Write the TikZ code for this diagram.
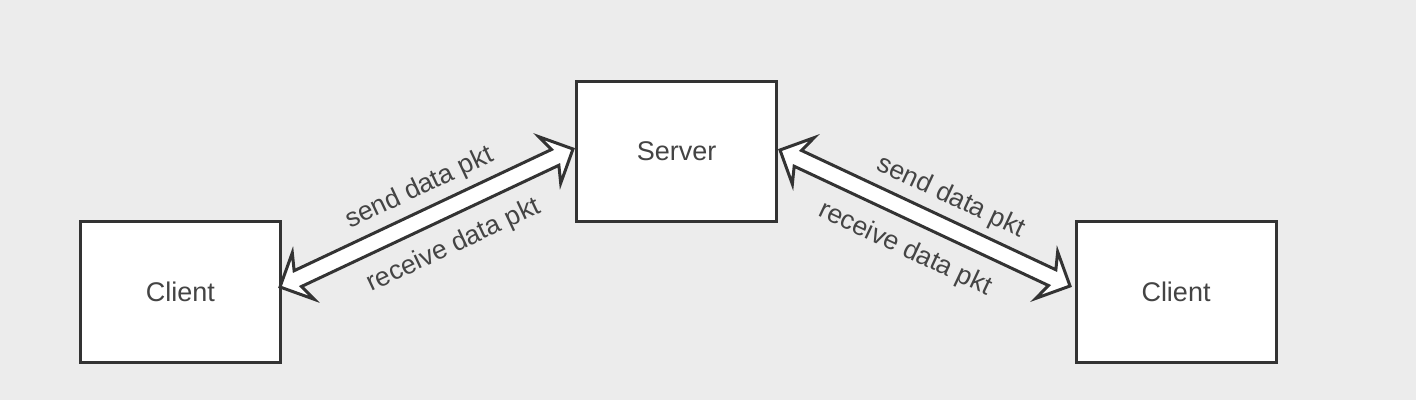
\documentclass[tikz,border=0pt]{standalone}
\usepackage{fontspec}
\setmainfont{Liberation Sans}
\usetikzlibrary{calc,shapes.arrows}
\definecolor{bgcol}{HTML}{ECECEC}
\definecolor{linecol}{HTML}{333333}
\definecolor{txtcol}{HTML}{444444}
\tikzset{
    box/.style={rectangle,draw=linecol,fill=white,line width=1.5pt,minimum width=100pt,minimum height=70pt,text=txtcol,font=\fontsize{13.5}{16}\selectfont,text height=0.95em,text depth=0pt},
    lbl/.style={text=txtcol,font=\fontsize{13.3}{16}\selectfont,inner sep=0pt,sloped},
    flexarrow/.style={double arrow,draw=linecol,fill=white,line width=1.5pt,inner xsep=0pt,inner ysep=3.6pt,double arrow head extend=8.5pt,double arrow head indent=3pt},
}

\begin{document}
\begin{tikzpicture}[x=0.5pt,y=-0.5pt]
\fill[bgcol] (0,0) rectangle (1416,400);
\node[box] (client1) at (180.5,292) {Client};
\node[box] (server) at (676.5,151.5) {Server};
\node[box] (client2) at (1176,292) {Client};
% ends of the two links
\coordinate (a1) at ($(client1.east)+(-2,-5)$);
\coordinate (a2) at ($(server.west)+(-2,-2.5)$);
\coordinate (b1) at ($(server.east)+(2,-1.5)$);
\coordinate (b2) at ($(client2.west)+(-4.5,-6)$);
\path let \p1=($(a2)-(a1)$), \n1={atan2(\y1,\x1)}, \n2={veclen(\x1,\y1)} in
  ($(a1)!0.5!(a2)$) node[flexarrow,rotate=\n1,minimum height=\n2] (link1) {};
\path let \p1=($(b2)-(b1)$), \n1={atan2(\y1,\x1)}, \n2={veclen(\x1,\y1)} in
  ($(b1)!0.5!(b2)$) node[flexarrow,rotate=\n1,minimum height=\n2] (link2) {};
\path (a1) -- (a2) node[lbl,pos=0.52,above=8.5pt] {send data pkt}
                   node[lbl,pos=0.54,below=12pt] {receive data pkt};
\path (b1) -- (b2) node[lbl,pos=0.545,above=8.5pt] {send data pkt}
                   node[lbl,pos=0.485,below=12pt] {receive data pkt};
\end{tikzpicture}
\end{document}
